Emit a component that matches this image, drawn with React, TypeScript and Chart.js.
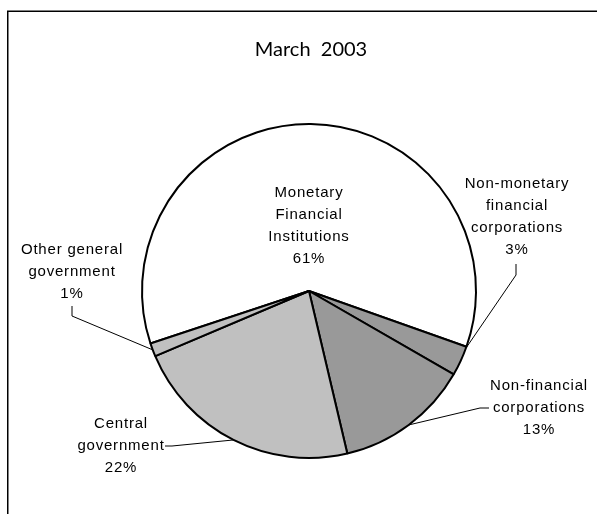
import React, { useEffect, useRef } from "react";
import { Chart, registerables } from "chart.js";

Chart.register(...registerables);

// ---- data ----
const titleText = "March  2003";
const categoryLines: string[][] = [
  ["Monetary", "Financial", "Institutions"],
  ["Non-monetary", "financial", "corporations"],
  ["Non-financial", "corporations"],
  ["Central", "government"],
  ["Other general", "government"],
];
const shareValues = [60.5, 2.9, 13.0, 22.3, 1.3];
const sliceColors = ["#ffffff", "#999999", "#999999", "#c0c0c0", "#c0c0c0"];

// ---- label layout (annotation placement, not data) ----
const labelCenters = [
  { x: 309, y: 193 },
  { x: 517, y: 184 },
  { x: 539, y: 386 },
  { x: 121, y: 424 },
  { x: 72, y: 250 },
];
// leader line: points from label toward pie, last point joins the arc
const leaderPaths: ({ x: number; y: number }[] | null)[] = [
  null,
  [{ x: 516, y: 264 }, { x: 516, y: 275 }],
  [{ x: 489, y: 408 }, { x: 480, y: 408 }],
  [{ x: 165, y: 446 }, { x: 172, y: 446 }],
  [{ x: 72, y: 306 }, { x: 72, y: 316 }],
];
const leaderFrac = [0.5, 0.05, 0.5, 0.5, 0.5];

const W = 597;
const H = 514;

export default function App() {
  const ref = useRef<HTMLCanvasElement | null>(null);

  useEffect(() => {
    if (!ref.current) return;

    const overlay = {
      id: "overlay",
      afterDraw(chart: any) {
        const ctx = chart.ctx as CanvasRenderingContext2D;
        ctx.save();
        // frame
        ctx.strokeStyle = "#000";
        ctx.lineWidth = 1.5;
        ctx.beginPath();
        ctx.moveTo(7.75, H + 2);
        ctx.lineTo(7.75, 11.25);
        ctx.lineTo(W + 2, 11.25);
        ctx.stroke();

        // title
        ctx.fillStyle = "#000";
        ctx.font = "20px Lato, 'Open Sans', sans-serif";
        ctx.textAlign = "center";
        ctx.textBaseline = "middle";
        ctx.fillText(titleText, 311, 50);

        // labels
        const meta = chart.getDatasetMeta(0);
        ctx.font = "15px 'Liberation Sans', Arial, sans-serif";
        (ctx as any).letterSpacing = "0.8px";
        const lineH = 22;
        categoryLines.forEach((lines, i) => {
          const c = labelCenters[i];
          const pct = Math.round(shareValues[i]) + "%";
          const all = [...lines, pct];
          all.forEach((t, k) => ctx.fillText(t, c.x, c.y + k * lineH));
        });
        (ctx as any).letterSpacing = "0px";

        // leader lines
        ctx.lineWidth = 1;
        ctx.strokeStyle = "#000";
        leaderPaths.forEach((path, i) => {
          if (!path) return;
          const arc = meta.data[i] as any;
          const p = arc.getProps(["x", "y", "startAngle", "endAngle", "outerRadius"], true);
          const a = p.startAngle + (p.endAngle - p.startAngle) * leaderFrac[i];
          const ex = p.x + Math.cos(a) * p.outerRadius;
          const ey = p.y + Math.sin(a) * p.outerRadius;
          ctx.beginPath();
          ctx.moveTo(path[0].x, path[0].y);
          for (let k = 1; k < path.length; k++) ctx.lineTo(path[k].x, path[k].y);
          ctx.lineTo(ex, ey);
          ctx.stroke();
        });
        ctx.restore();
      },
    };

    const chart = new Chart(ref.current, {
      type: "pie",
      data: {
        labels: categoryLines.map((l) => l.join(" ")),
        datasets: [
          {
            data: shareValues,
            backgroundColor: sliceColors,
            borderColor: "#000000",
            borderWidth: 2,
          },
        ],
      },
      options: {
        responsive: false,
        animation: false,
        devicePixelRatio: 1,
        rotation: 251.7,
        layout: { padding: { left: 141, right: 120, top: 123, bottom: 55 } },
        plugins: {
          legend: { display: false },
          title: { display: false },
          tooltip: { enabled: false },
        },
      },
      plugins: [overlay],
    });
    return () => chart.destroy();
  }, []);

  return (
    <div style={{ position: "fixed", left: 0, top: 0, width: W, height: H, background: "#fff" }}>
      <canvas ref={ref} width={W} height={H} style={{ width: W, height: H, display: "block" }} />
    </div>
  );
}
